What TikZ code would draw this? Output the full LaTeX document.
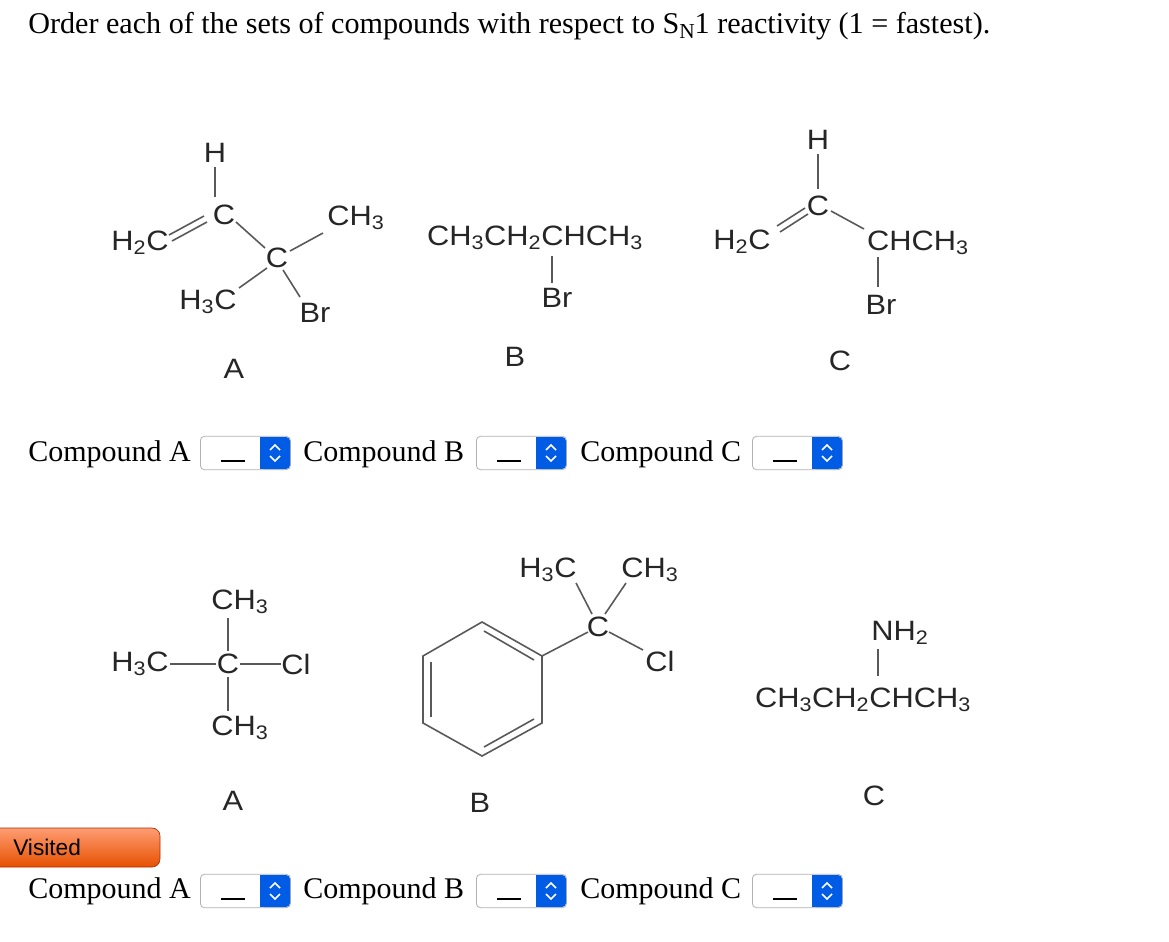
\documentclass[tikz,border=0pt]{standalone}
\usepackage{fontspec}
\setmainfont{Liberation Serif}
\newfontfamily\chem[FakeStretch=1.1]{Liberation Sans}
\newfontfamily\uisans{Liberation Sans}
\begin{document}
\begin{tikzpicture}[x=0.75pt,y=-0.75pt,
  ch/.style={font=\chem\fontsize{21}{23}\selectfont, inner sep=0pt, text=black!85},
  bd/.style={line width=1.2pt, black!65},
  lbl/.style={font=\fontsize{22.5}{26}\selectfont, inner sep=0pt, anchor=west},
  sel/.style={draw=black!30, rounded corners=3pt, line width=0.6pt, fill=white, minimum width=67.5pt, minimum height=25pt, inner sep=0pt}]
\useasboundingbox (0,0) rectangle (1169,941);
\node[font=\fontsize{22.6}{25}\selectfont, anchor=west, inner sep=0pt] (title) at (28,26) {Order each of the sets of compounds with respect to S\raisebox{-0.35ex}{\fontsize{16}{17}\selectfont N}1 reactivity (1 = fastest).};
% ---- top A
\node[ch] (aH) at (215,153) {H};
\node[ch] (aC1) at (224,215) {C};
\node[ch] (aH2C) at (140,243) {H\textsubscript{2}C};
\node[ch] (aC2) at (277,258) {C};
\node[ch] (aCH3) at (356,218) {CH\textsubscript{3}};
\node[ch] (aH3C) at (208,302) {H\textsubscript{3}C};
\node[ch] (aBr) at (315,313) {Br};
\node[ch] (aL) at (234,369) {A};
\draw[bd] (215,167) -- (215,197);
\draw[bd] (172,241) -- (207,222);
\draw[bd] (169,235) -- (204,216);
\draw[bd] (236,222) -- (265,248);
\draw[bd] (290,251) -- (323,233);
\draw[bd] (267,268) -- (239,288);
\draw[bd] (283,270) -- (300,297);
% ---- top B
\node[ch] (bT) at (535,238) {CH\textsubscript{3}CH\textsubscript{2}CHCH\textsubscript{3}};
\node[ch] (bBr) at (557,298) {Br};
\node[ch] (bL) at (515,357) {B};
\draw[bd] (552,256) -- (552,283);
% ---- top C
\node[ch] (cH) at (818,140) {H};
\node[ch] (cC) at (818,206) {C};
\node[ch] (cH2C) at (742,242) {H\textsubscript{2}C};
\node[ch] (cR) at (918,243) {CHCH\textsubscript{3}};
\node[ch] (cBr) at (881,305) {Br};
\node[ch] (cL) at (840,361) {C};
\draw[bd] (818,154) -- (818,189);
\draw[bd] (780,232) -- (808,214);
\draw[bd] (777,226) -- (805,208);
\draw[bd] (831,211) -- (864,229);
\draw[bd] (878,257) -- (878,287);
% ---- row 1 dropdowns
\foreach \lx/\bx/\nm/\id in {28/200/A/ra1,303/476/B/rb1,580/752/C/rc1}{
  \node[lbl] (\id t) at (\lx,454) {Compound \nm};
  \node[sel, anchor=west] (\id s) at (\bx,453) {};
  \fill[blue!60!cyan!90!black, rounded corners=3pt] (\bx+60,437) rectangle (\bx+90,469);
  \fill[blue!60!cyan!90!black] (\bx+60,437) rectangle (\bx+66,469);
  \draw[white, line width=1.2pt] (\bx+70,450) -- (\bx+75,445) -- (\bx+80,450) (\bx+70,456) -- (\bx+75,461) -- (\bx+80,456);
  \draw[black, line width=0.9pt] (\bx+21,461) -- (\bx+45,461);
}
% ---- bottom A
\node[ch] (dT) at (240,602) {CH\textsubscript{3}};
\node[ch] (dH3C) at (140,664) {H\textsubscript{3}C};
\node[ch] (dC) at (228,664) {C};
\node[ch] (dCl) at (296,664) {Cl};
\node[ch] (dB) at (240,728) {CH\textsubscript{3}};
\node[ch] (dL) at (233,801) {A};
\draw[bd] (170,664) -- (216,664);
\draw[bd] (240,664) -- (281,664);
\draw[bd] (228,618) -- (228,651);
\draw[bd] (228,677) -- (228,711);
% ---- bottom B
\coordinate (r1) at (482,622);
\coordinate (r2) at (542,656);
\coordinate (r3) at (542,723);
\coordinate (r4) at (482,756);
\coordinate (r5) at (423,723);
\coordinate (r6) at (423,656);
\draw[bd] (r1) -- (r2) -- (r3) -- (r4) -- (r5) -- (r6) -- cycle;
\draw[bd] (484,631) -- (534,660);
\draw[bd] (534,719) -- (484,747);
\draw[bd] (431,662) -- (431,717);
\node[ch] (eC) at (598,627) {C};
\node[ch] (eH3C) at (548,570) {H\textsubscript{3}C};
\node[ch] (eCH3) at (650,570) {CH\textsubscript{3}};
\node[ch] (eCl) at (660,661) {Cl};
\node[ch] (eL) at (480,803) {B};
\draw[bd] (r2) -- (588,632);
\draw[bd] (576,583) -- (592,614);
\draw[bd] (626,583) -- (605,614);
\draw[bd] (609,632) -- (643,650);
% ---- bottom C
\node[ch] (fN) at (900,633) {NH\textsubscript{2}};
\node[ch] (fT) at (863,700) {CH\textsubscript{3}CH\textsubscript{2}CHCH\textsubscript{3}};
\node[ch] (fL) at (874,796) {C};
\draw[bd] (878,649) -- (878,676);
% ---- visited button
\shade[top color=orange!60!red!55, bottom color=orange!70!red!90!black, rounded corners=6pt, draw=orange!50!red!70!black, line width=0.5pt] (-10,828) rectangle (160,867);
\node[font=\uisans\fontsize{17}{20}\selectfont, anchor=west, inner sep=0pt] (vis) at (13,847) {Visited};
% ---- row 2 dropdowns
\foreach \lx/\bx/\nm/\id in {28/200/A/ra2,303/476/B/rb2,580/752/C/rc2}{
  \node[lbl] (\id t) at (\lx,891) {Compound \nm};
  \node[sel, anchor=west] (\id s) at (\bx,891) {};
  \fill[blue!60!cyan!90!black, rounded corners=3pt] (\bx+60,875) rectangle (\bx+90,907);
  \fill[blue!60!cyan!90!black] (\bx+60,875) rectangle (\bx+66,907);
  \draw[white, line width=1.2pt] (\bx+70,888) -- (\bx+75,883) -- (\bx+80,888) (\bx+70,894) -- (\bx+75,899) -- (\bx+80,894);
  \draw[black, line width=0.9pt] (\bx+21,899) -- (\bx+45,899);
}
\end{tikzpicture}
\end{document}
